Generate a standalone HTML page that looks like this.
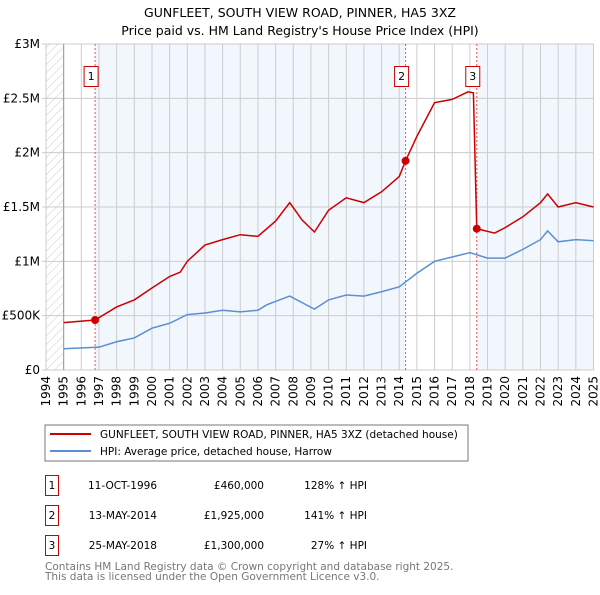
<!DOCTYPE html>
<html><head><meta charset="utf-8"><style>
body{margin:0;background:#fff;}
svg text{font-family:"DejaVu Sans","Liberation Sans",sans-serif;}
</style></head><body>
<svg width="600" height="590" xmlns="http://www.w3.org/2000/svg">
<defs>
<pattern id="hatch" width="6" height="6" patternUnits="userSpaceOnUse" patternTransform="rotate(45)">
<line x1="0" y1="0" x2="0" y2="6" stroke="#ccc" stroke-width="1"/>
</pattern>
</defs>
<text x="300" y="17" text-anchor="middle" font-size="12.5">GUNFLEET, SOUTH VIEW ROAD, PINNER, HA5 3XZ</text>
<text x="300" y="35" text-anchor="middle" font-size="12.5">Price paid vs. HM Land Registry's House Price Index (HPI)</text>
<g id="plot"></g>
<g id="legend">
<rect x="45" y="425" width="423" height="36" fill="#fff" stroke="#777"/>
<line x1="50" y1="434" x2="91" y2="434" stroke="#cc0000" stroke-width="2"/>
<text x="100" y="438" font-size="10.5">GUNFLEET, SOUTH VIEW ROAD, PINNER, HA5 3XZ (detached house)</text>
<line x1="50" y1="451" x2="91" y2="451" stroke="#5b8fd4" stroke-width="2"/>
<text x="100" y="455" font-size="10.5">HPI: Average price, detached house, Harrow</text>
</g>
<g id="table"></g>
<text x="45" y="570" font-size="10.5" fill="#777">Contains HM Land Registry data © Crown copyright and database right 2025.</text>
<text x="45" y="580" font-size="10.5" fill="#777">This data is licensed under the Open Government Licence v3.0.</text>
</svg>
<script>
const propT=[1995.0,1996.78,1998,1999,2000,2001,2001.6,2002,2003,2004,2005,2006,2007,2007.8,2008.5,2009.2,2010,2011,2012,2013,2014,2014.36,2015,2016,2017,2017.9,2018.2,2018.39,2019.4,2020,2021,2022,2022.4,2023,2024,2025];
const propV=[0.436,0.46,0.58,0.645,0.755,0.86,0.9,1.0,1.15,1.2,1.245,1.23,1.37,1.54,1.38,1.27,1.47,1.585,1.54,1.64,1.78,1.925,2.15,2.46,2.49,2.56,2.55,1.3,1.26,1.31,1.41,1.54,1.62,1.5,1.54,1.5];
const hpiT=[1995,1997,1998,1999,2000,2001,2002,2003,2004,2005,2006,2006.5,2007.8,2009.2,2010,2011,2012,2013,2014,2015,2016,2017,2018,2019,2020,2021,2022,2022.4,2023,2024,2025];
const hpiV=[0.195,0.21,0.26,0.295,0.385,0.43,0.51,0.525,0.55,0.535,0.55,0.6,0.68,0.56,0.645,0.69,0.68,0.72,0.765,0.89,1.0,1.04,1.08,1.03,1.03,1.11,1.2,1.28,1.18,1.2,1.19];
const saleT=[1996.78,2014.36,2018.39];
const saleV=[0.46,1.925,1.3];
const saleLabels=["1","2","3"];
const saleDates=["11-OCT-1996","13-MAY-2014","25-MAY-2018"];
const salePrices=["£460,000","£1,925,000","£1,300,000"];
const salePct=["128% ↑ HPI","141% ↑ HPI","27% ↑ HPI"];
const yTicks=[0,0.5,1,1.5,2,2.5,3];
const yTickLabels=["£0","£500K","£1M","£1.5M","£2M","£2.5M","£3M"];
const xYears=[1994,1995,1996,1997,1998,1999,2000,2001,2002,2003,2004,2005,2006,2007,2008,2009,2010,2011,2012,2013,2014,2015,2016,2017,2018,2019,2020,2021,2022,2023,2024,2025];

const NS="http://www.w3.org/2000/svg";
const X0=46,X1=593.5,Y0=370,Y1=44;
const xs=t=>X0+(t-1994)*(X1-X0)/31;
const ys=v=>Y0-(v/3)*(Y0-Y1);
const plot=document.getElementById('plot');
function mk(tag,attrs,parent){const e=document.createElementNS(NS,tag);for(const k in attrs)e.setAttribute(k,attrs[k]);(parent||plot).appendChild(e);return e;}

let e;
e=mk('rect',{x:X0,y:Y1,width:X1-X0,height:Y0-Y1,fill:'#fff'});


const shadeRanges=[[saleT[0],saleT[1]],[saleT[2],2025]];
shadeRanges.forEach(r=>{
 e=mk('rect',{x:xs(r[0]),y:Y1,width:xs(r[1])-xs(r[0]),height:Y0-Y1,fill:'#f2f6fd'});
 
 
});
e=mk('rect',{x:X0,y:Y1,width:xs(1995)-X0,height:Y0-Y1,fill:'url(#hatch)'});


xYears.forEach(yr=>{
 e=mk('line',{x1:xs(yr),x2:xs(yr),y1:Y1,y2:Y0,stroke:'#ccc','stroke-width':1});
 
 
 e=mk('text',{x:xs(yr),y:Y0+6,'font-size':12,'text-anchor':'end',transform:`rotate(-90 ${xs(yr)} ${Y0+6})`,dy:'4'});
 e.textContent=yr;
 
 
});
yTicks.forEach((v,i)=>{
 e=mk('line',{x1:X0-4,x2:X1,y1:ys(v),y2:ys(v),stroke:'#ccc','stroke-width':1});
 
 
 e=mk('text',{x:X0-6,y:ys(v)+4,'font-size':12,'text-anchor':'end'});
 e.textContent=yTickLabels[i];
 
 
});
e=mk('rect',{x:X0,y:Y1,width:X1-X0,height:Y0-Y1,fill:'none',stroke:'#ccc'});


e=mk('line',{x1:xs(1995),x2:xs(1995),y1:Y1,y2:Y0,stroke:'#999'});


saleT.forEach((t,i)=>{
 e=mk('line',{x1:xs(t),x2:xs(t),y1:Y1,y2:Y0,stroke:'#ee5555','stroke-width':1,'stroke-dasharray':'2,2'});
 
 
});
e=mk('polyline',{points:hpiT.map((t,i)=>xs(t)+','+ys(hpiV[i])).join(' '),fill:'none',stroke:'#5b8fd4','stroke-width':1.5});


e=mk('polyline',{points:propT.map((t,i)=>xs(t)+','+ys(propV[i])).join(' '),fill:'none',stroke:'#cc0000','stroke-width':1.5});


saleT.forEach((t,i)=>{
 e=mk('circle',{cx:xs(t),cy:ys(saleV[i]),r:4,fill:'#cc0000'});
 
 
 const cx=xs(t)-4;
 e=mk('rect',{x:cx-7,y:66.5,width:14,height:20,fill:'#fff',stroke:'#cc0000'});
 
 
 e=mk('text',{x:cx,y:80,'font-size':11,'text-anchor':'middle'});
 e.textContent=saleLabels[i];
 
 
});
const tbl=document.getElementById('table');
saleT.forEach((t,i)=>{
 const y=475+i*30;
 e=mk('rect',{x:45.5,y:y+0.5,width:13,height:20,fill:'#fff',stroke:'#cc0000'},tbl);
 
 
 e=mk('text',{x:52,y:y+14,'font-size':10.5,'text-anchor':'middle'},tbl);
 e.textContent=saleLabels[i];
 
 
 e=mk('text',{x:157,y:y+14,'font-size':10.5,'text-anchor':'end'},tbl);
 e.textContent=saleDates[i];
 
 
 e=mk('text',{x:264,y:y+14,'font-size':10.5,'text-anchor':'end'},tbl);
 e.textContent=salePrices[i];
 
 
 e=mk('text',{x:367,y:y+14,'font-size':10.5,'text-anchor':'end'},tbl);
 e.textContent=salePct[i];
 
 
});
</script>
</body></html>
